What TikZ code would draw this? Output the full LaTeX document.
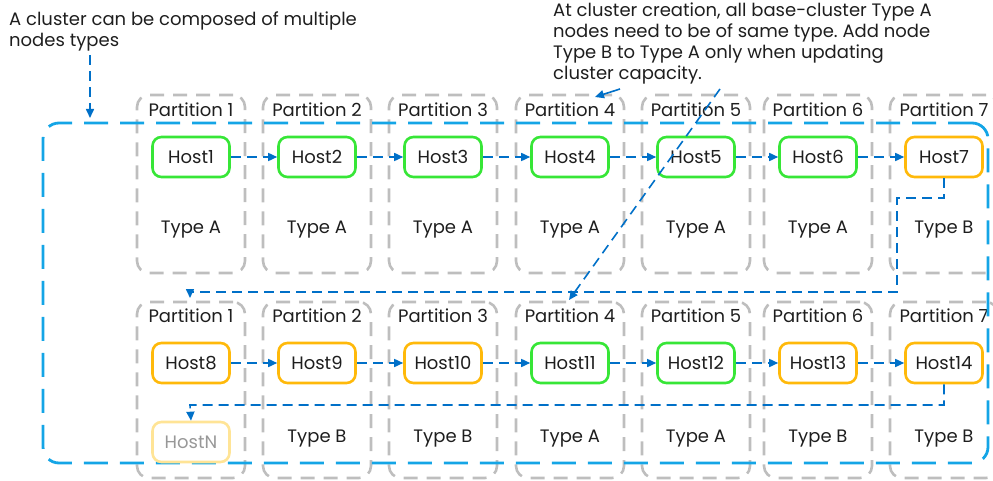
\documentclass[tikz,border=0pt]{standalone}
\usepackage{fontspec}
\setmainfont{Poppins}
\usetikzlibrary{arrows.meta}
\definecolor{partgray}{RGB}{190,190,190}
\definecolor{clublue}{RGB}{20,165,230}
\definecolor{linkblue}{RGB}{0,112,200}
\definecolor{hostgreen}{RGB}{55,230,55}
\definecolor{hostorange}{RGB}{255,185,10}
\definecolor{fadeorange}{RGB}{255,228,150}
\definecolor{txt}{RGB}{30,30,30}
\frenchspacing
\begin{document}
\begin{tikzpicture}[x=1pt,y=-1pt,
  every node/.style={text=txt, font=\fontsize{18}{21}\selectfont, inner sep=0pt},
  partbox/.style={draw=partgray, line width=2.6pt, dash pattern=on 14pt off 9pt, rounded corners=12pt, minimum width=108pt},
  hostbox/.style={draw, line width=2.6pt, rounded corners=9pt, minimum width=77pt, minimum height=40pt},
  greenhost/.style={hostbox, draw=hostgreen},
  orangehost/.style={hostbox, draw=hostorange},
  conn/.style={draw=linkblue, line width=1.6pt, dash pattern=on 10pt off 6pt, -{Triangle[length=9pt,width=8pt]}},
  cluster/.style={draw=clublue, line width=2.8pt, dash pattern=on 24pt off 12pt, rounded corners=16pt}
]
\useasboundingbox (0,0) rectangle (993,481);
% partition boxes
\foreach \x [count=\i] in {191,317,443,570,696,818,944} {
  \node[partbox, minimum height=178pt] (pa\i) at (\x,184) {};
  \node[partbox, minimum height=176pt] (pb\i) at (\x,390) {};
  \node (ta\i) at (\x,110) {Partition \i};
  \node (tb\i) at (\x,316) {Partition \i};
}
% cluster boundary
\node[cluster, minimum width=945pt, minimum height=340pt] (clu) at (515.5,293) {};
% type labels
\foreach \i/\t in {1/A,2/A,3/A,4/A,5/A,6/A,7/B} {
  \node (la\i) at (pa\i |- 0,230) {Type \t};
}
\foreach \i/\t in {2/B,3/B,4/A,5/A,6/B,7/B} {
  \node (lb\i) at (pb\i |- 0,439) {Type \t};
}
% hosts row 1
\foreach \i in {1,...,6} {
  \node[greenhost] (h\i) at (pa\i |- 0,157) {Host\i};
}
\node[orangehost] (h7) at (pa7 |- 0,157) {Host7};
% hosts row 2
\node[orangehost] (h8) at (pb1 |- 0,363) {Host8};
\node[orangehost] (h9) at (pb2 |- 0,363) {Host9};
\node[orangehost] (h10) at (pb3 |- 0,363) {Host10};
\node[greenhost] (h11) at (pb4 |- 0,363) {Host11};
\node[greenhost] (h12) at (pb5 |- 0,363) {Host12};
\node[orangehost] (h13) at (pb6 |- 0,363) {Host13};
\node[orangehost] (h14) at (pb7 |- 0,363) {Host14};
\node[hostbox, draw=fadeorange, text=partgray!80!black] (hN) at (pb1 |- 0,442) {HostN};
% connectors
\foreach \a/\b in {1/2,2/3,3/4,4/5,5/6,6/7,8/9,9/10,10/11,11/12,12/13,13/14} {
  \draw[conn] (h\a.east) -- (h\b.west);
}
\coordinate (k1) at (944,198);
\coordinate (k2) at (897,198);
\coordinate (k3) at (897,292);
\coordinate (k4) at (190,292);
\coordinate (k5) at (190,298);
\draw[conn] (h7.south) -- (k1) -- (k2) -- (k3) -- (k4) -- (k5);
\coordinate (m1) at (944,405);
\coordinate (m2) at (190,405);
\draw[conn] (h14.south) -- (m1) -- (m2) -- (hN.north);
% annotations
\node[anchor=north west, align=left] (ann1) at (9,12) {A cluster can be composed of multiple\\nodes types};
\node[anchor=north west, align=left] (ann2) at (553,3) {At cluster creation, all base-cluster Type A\\nodes need to be of same type. Add node\\Type B to Type A only when updating\\cluster capacity.};
\coordinate (a1s) at (90,55);
\coordinate (a1e) at (90,118);
\draw[conn] (a1s) -- (a1e);
\coordinate (a2s) at (620,89);
\coordinate (a2e) at (595,97);
\draw[draw=linkblue, line width=1.6pt, -{Triangle[length=9pt,width=8pt]}] (a2s) -- (a2e);
\coordinate (a3s) at (720,89);
\coordinate (a3e) at (569,300);
\draw[conn] (a3s) -- (a3e);
\end{tikzpicture}
\end{document}
